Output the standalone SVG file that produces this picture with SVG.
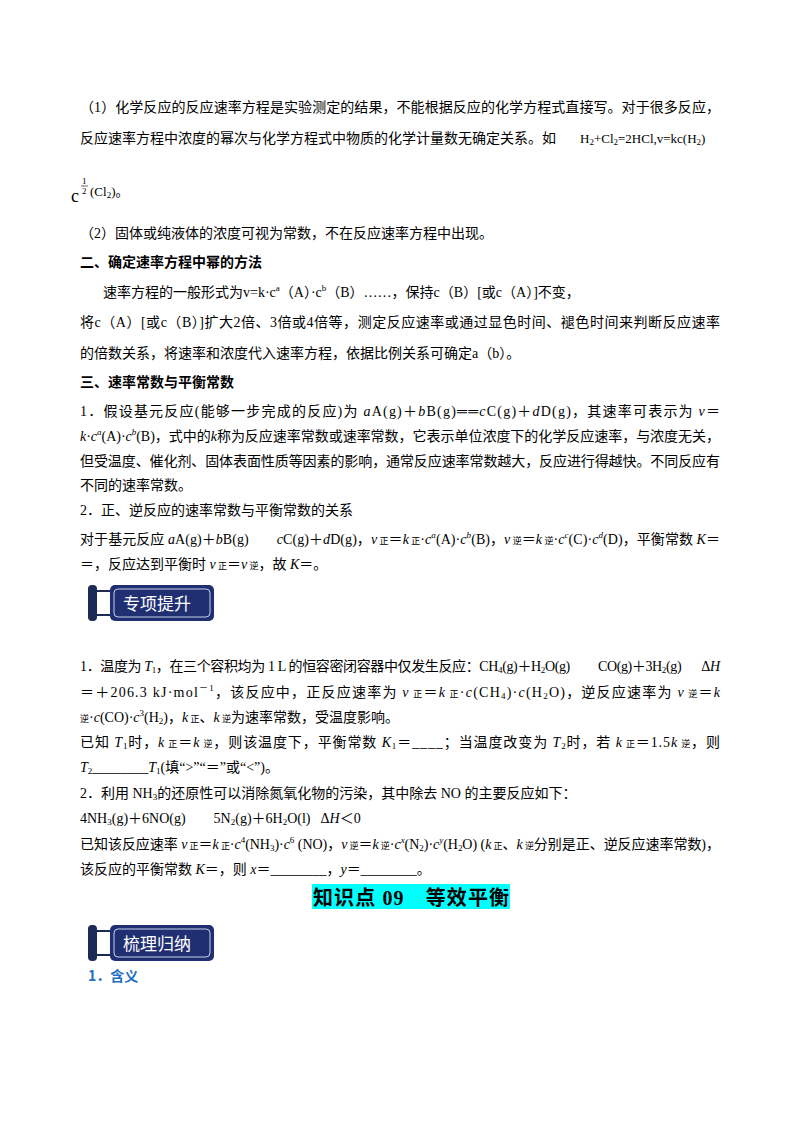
<svg xmlns="http://www.w3.org/2000/svg" width="800" height="1132" viewBox="0 0 800 1132">
<style>
text{font-family:"Liberation Serif","Noto Sans CJK SC",serif;font-size:14px;fill:#000}
.h{font-weight:bold;font-family:"Noto Sans CJK SC",sans-serif}
.s{font-size:9px}
.m{font-size:13px}
.c{font-size:18px}
.i{font-style:italic}
.t{font-size:20px;font-weight:bold}
.bl{fill:#1f6fc4}
.bt{font-family:"Noto Sans CJK SC",sans-serif;font-size:17px;fill:#fff}
</style>
<defs>
<g id="badge">
<rect x="0" y="0" width="9" height="36" rx="4" fill="#1c2b55"/>
<line x1="9" y1="6" x2="25" y2="6" stroke="#1c2b55" stroke-width="2"/>
<line x1="9" y1="30" x2="25" y2="30" stroke="#1c2b55" stroke-width="2"/>
<rect x="22" y="0" width="104" height="36" rx="5" fill="#1f2f72"/>
<rect x="26" y="4" width="96" height="28" rx="4" fill="none" stroke="#c8d0e8" stroke-width="1"/>
</g>
</defs>
<rect width="800" height="1132" fill="#fff"/>
<text x="80" y="112" textLength="640" lengthAdjust="spacing">（1）化学反应的反应速率方程是实验测定的结果，不能根据反应的化学方程式直接写。对于很多反应，</text>
<text x="80" y="143">反应速率方程中浓度的幂次与化学方程式中物质的化学计量数无确定关系。如</text>
<text x="580" y="143" class="m">H<tspan class="s" dy="2">2</tspan><tspan dy="-2">+Cl</tspan><tspan class="s" dy="2">2</tspan><tspan dy="-2">=2HCl,v=kc(H</tspan><tspan class="s" dy="2">2</tspan><tspan dy="-2">)</tspan></text>
<text x="71" y="202" class="c">c</text>
<text x="82" y="184" class="s">1</text>
<line x1="81" y1="186" x2="88" y2="186" stroke="#000" stroke-width="0.6"/>
<text x="82" y="194" class="s">2</text>
<text x="90" y="196" class="m">(Cl<tspan class="s" dy="2">2</tspan><tspan dy="-2">)。</tspan></text>
<text x="80" y="238">（2）固体或纯液体的浓度可视为常数，不在反应速率方程中出现。</text>
<text x="80" y="267" class="h">二、确定速率方程中幂的方法</text>
<text x="103" y="297">速率方程的一般形式为v=k·c<tspan class="s" dy="-6">a</tspan><tspan dy="6">（A）·c</tspan><tspan class="s" dy="-6">b</tspan><tspan dy="6">（B）……，保持c（B）[或c（A）]不变，</tspan></text>
<text x="80" y="327" textLength="640" lengthAdjust="spacing">将c（A）[或c（B）]扩大2倍、3倍或4倍等，测定反应速率或通过显色时间、褪色时间来判断反应速率</text>
<text x="80" y="358">的倍数关系，将速率和浓度代入速率方程，依据比例关系可确定a（b）。</text>
<text x="80" y="387" class="h">三、速率常数与平衡常数</text>
<text x="80" y="416" textLength="640" lengthAdjust="spacing">1．假设基元反应(能够一步完成的反应)为 <tspan class="i">a</tspan>A(g)＋<tspan class="i">b</tspan>B(g)══<tspan class="i">c</tspan>C(g)＋<tspan class="i">d</tspan>D(g)，其速率可表示为 <tspan class="i">v</tspan>＝</text>
<text x="80" y="441" textLength="640" lengthAdjust="spacing"><tspan class="i">k</tspan>·<tspan class="i">c</tspan><tspan class="s i" dy="-6">a</tspan><tspan dy="6">(A)·</tspan><tspan class="i">c</tspan><tspan class="s i" dy="-6">b</tspan><tspan dy="6">(B)，式中的</tspan><tspan class="i">k</tspan>称为反应速率常数或速率常数，它表示单位浓度下的化学反应速率，与浓度无关，</text>
<text x="80" y="466" textLength="640" lengthAdjust="spacing">但受温度、催化剂、固体表面性质等因素的影响，通常反应速率常数越大，反应进行得越快。不同反应有</text>
<text x="80" y="490">不同的速率常数。</text>
<text x="80" y="515">2．正、逆反应的速率常数与平衡常数的关系</text>
<text x="80" y="544" textLength="640" lengthAdjust="spacing">对于基元反应 <tspan class="i">a</tspan>A(g)＋<tspan class="i">b</tspan>B(g)<tspan dx="28" class="i">c</tspan>C(g)＋<tspan class="i">d</tspan>D(g)，<tspan class="i">v</tspan><tspan class="s"> 正</tspan>＝<tspan class="i">k</tspan><tspan class="s"> 正</tspan>·<tspan class="i">c</tspan><tspan class="s i" dy="-6">a</tspan><tspan dy="6">(A)·</tspan><tspan class="i">c</tspan><tspan class="s i" dy="-6">b</tspan><tspan dy="6">(B)，</tspan><tspan class="i">v</tspan><tspan class="s"> 逆</tspan>＝<tspan class="i">k</tspan><tspan class="s"> 逆</tspan>·<tspan class="i">c</tspan><tspan class="s i" dy="-6">c</tspan><tspan dy="6">(C)·</tspan><tspan class="i">c</tspan><tspan class="s i" dy="-6">d</tspan><tspan dy="6">(D)，平衡常数 </tspan><tspan class="i">K</tspan>＝</text>
<text x="80" y="569">＝，反应达到平衡时 <tspan class="i">v</tspan><tspan class="s"> 正</tspan>＝<tspan class="i">v</tspan><tspan class="s"> 逆</tspan>，故 <tspan class="i">K</tspan>＝。</text>
<g id="badge1"><use href="#badge" x="88" y="585"/><text x="123" y="610" class="bt">专项提升</text></g>
<text x="80" y="671" textLength="640" lengthAdjust="spacing">1．温度为 <tspan class="i">T</tspan><tspan class="s" dy="2">1</tspan><tspan dy="-2">，在三个容积均为 1 L 的恒容密闭容器中仅发生反应：CH</tspan><tspan class="s" dy="2">4</tspan><tspan dy="-2">(g)＋H</tspan><tspan class="s" dy="2">2</tspan><tspan dy="-2">O(g)</tspan><tspan dx="28">CO(g)＋3H</tspan><tspan class="s" dy="2">2</tspan><tspan dy="-2">(g)</tspan><tspan dx="20">Δ</tspan><tspan class="i">H</tspan></text>
<text x="80" y="697" textLength="640" lengthAdjust="spacing">＝＋206.3 kJ·mol<tspan class="s" dy="-6">－1</tspan><tspan dy="6">，该反应中，正反应速率为 </tspan><tspan class="i">v</tspan><tspan class="s"> 正</tspan>＝<tspan class="i">k</tspan><tspan class="s"> 正</tspan>·<tspan class="i">c</tspan>(CH<tspan class="s" dy="2">4</tspan><tspan dy="-2">)·</tspan><tspan class="i">c</tspan>(H<tspan class="s" dy="2">2</tspan><tspan dy="-2">O)，逆反应速率为 </tspan><tspan class="i">v</tspan><tspan class="s"> 逆</tspan>＝<tspan class="i">k</tspan></text>
<text x="80" y="722"><tspan class="s">逆</tspan>·<tspan class="i">c</tspan>(CO)·<tspan class="i">c</tspan><tspan class="s" dy="-6">3</tspan><tspan dy="6">(H</tspan><tspan class="s" dy="2">2</tspan><tspan dy="-2">)，</tspan><tspan class="i">k</tspan><tspan class="s"> 正</tspan>、<tspan class="i">k</tspan><tspan class="s"> 逆</tspan>为速率常数，受温度影响。</text>
<text x="80" y="747" textLength="640" lengthAdjust="spacing">已知 <tspan class="i">T</tspan><tspan class="s" dy="2">1</tspan><tspan dy="-2">时，</tspan><tspan class="i">k</tspan><tspan class="s"> 正</tspan>＝<tspan class="i">k</tspan><tspan class="s"> 逆</tspan>，则该温度下，平衡常数 <tspan class="i">K</tspan><tspan class="s" dy="2">1</tspan><tspan dy="-2">＝____；当温度改变为 </tspan><tspan class="i">T</tspan><tspan class="s" dy="2">2</tspan><tspan dy="-2">时，若 </tspan><tspan class="i">k</tspan><tspan class="s"> 正</tspan>＝1.5<tspan class="i">k</tspan><tspan class="s"> 逆</tspan>，则</text>
<text x="80" y="772"><tspan class="i">T</tspan><tspan class="s" dy="2">2</tspan><tspan dy="-2">________</tspan><tspan class="i">T</tspan><tspan class="s" dy="2">1</tspan><tspan dy="-2">(填“&gt;”“＝”或“&lt;”)。</tspan></text>
<text x="80" y="798">2．利用 NH<tspan class="s" dy="2">3</tspan><tspan dy="-2">的还原性可以消除氮氧化物的污染，其中除去 NO 的主要反应如下：</tspan></text>
<text x="80" y="823">4NH<tspan class="s" dy="2">3</tspan><tspan dy="-2">(g)＋6NO(g)</tspan><tspan dx="28">5N</tspan><tspan class="s" dy="2">2</tspan><tspan dy="-2">(g)＋6H</tspan><tspan class="s" dy="2">2</tspan><tspan dy="-2">O(l)</tspan><tspan dx="10">Δ</tspan><tspan class="i">H</tspan>＜0</text>
<text x="80" y="849" textLength="640" lengthAdjust="spacing">已知该反应速率 <tspan class="i">v</tspan><tspan class="s"> 正</tspan>＝<tspan class="i">k</tspan><tspan class="s"> 正</tspan>·<tspan class="i">c</tspan><tspan class="s" dy="-6">4</tspan><tspan dy="6">(NH</tspan><tspan class="s" dy="2">3</tspan><tspan dy="-2">)·</tspan><tspan class="i">c</tspan><tspan class="s" dy="-6">6</tspan><tspan dy="6"> (NO)，</tspan><tspan class="i">v</tspan><tspan class="s"> 逆</tspan>＝<tspan class="i">k</tspan><tspan class="s"> 逆</tspan>·<tspan class="i">c</tspan><tspan class="s i" dy="-6">x</tspan><tspan dy="6">(N</tspan><tspan class="s" dy="2">2</tspan><tspan dy="-2">)·</tspan><tspan class="i">c</tspan><tspan class="s i" dy="-6">y</tspan><tspan dy="6">(H</tspan><tspan class="s" dy="2">2</tspan><tspan dy="-2">O) (</tspan><tspan class="i">k</tspan><tspan class="s"> 正</tspan>、<tspan class="i">k</tspan><tspan class="s"> 逆</tspan>分别是正、逆反应速率常数)，</text>
<text x="80" y="874">该反应的平衡常数 <tspan class="i">K</tspan>＝，则 <tspan class="i">x</tspan>＝________，<tspan class="i">y</tspan>＝________。</text>
<rect x="312" y="884" width="198" height="25" fill="#00ffff"/>
<text x="313" y="905" class="t" textLength="196" lengthAdjust="spacing">知识点 09　等效平衡</text>
<g id="badge2"><use href="#badge" x="88" y="925"/><text x="123" y="950" class="bt">梳理归纳</text></g>
<text x="88" y="981" class="h bl">1．含义</text>
</svg>
